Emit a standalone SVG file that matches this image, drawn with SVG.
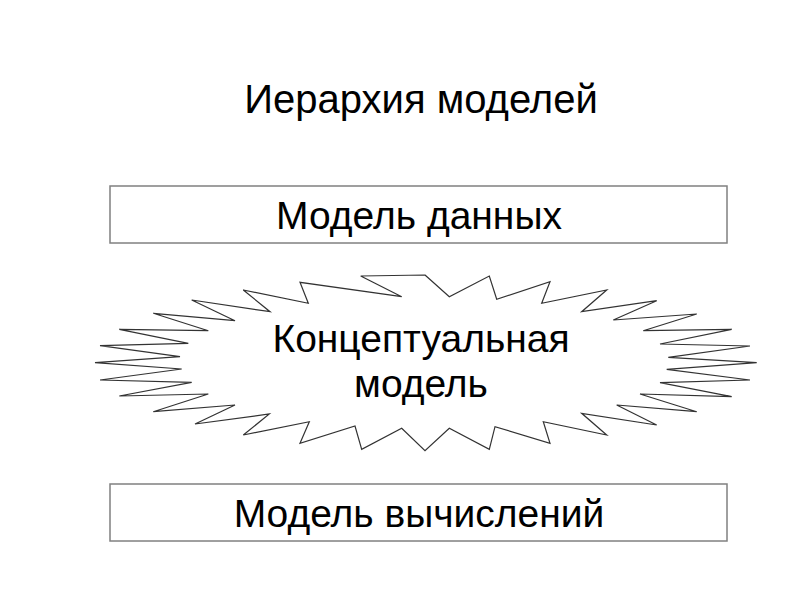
<svg xmlns="http://www.w3.org/2000/svg" width="800" height="600" viewBox="0 0 800 600">
<style>
text{font-family:"Liberation Sans",Arial,sans-serif;fill:#000;text-anchor:middle}
.box{fill:#fff;stroke:#808080;stroke-width:1.5}
.burst{fill:#fff;stroke:#333;stroke-width:1.2;stroke-linejoin:miter}
.t{font-size:39px}
</style>
<rect width="800" height="600" fill="#fff"/>
<g id="title"><text x="421" y="113" style="font-size:40px">Иерархия моделей</text></g>
<g id="data-model">
<rect class="box" x="110" y="186" width="617" height="57"/>
<text class="t" x="419" y="229">Модель данных</text>
</g>
<g id="concept-model">
<polygon class="burst" points="425,275 449.3,296.7 489.3,276 496.7,299.3 550,281.7 541.7,303.3 606.7,290 581.7,311.7 656.7,300.7 613.3,320 696.7,314 643.3,330.7 731.7,329.3 660,344 750,346 668.3,357.3 756.7,362.7 666.7,369.3 750,380 660,382.7 731.7,396.7 640,394 696.7,411.7 616.7,405 656.7,425 581.7,413.3 606.7,435 543.3,421.7 550,443.3 495,426.7 489.3,449.3 449.3,428.3 425,450.7 401.7,428.3 361.7,449.3 355,426 300,443.3 309.3,421.7 243.3,435 269.3,414 195,424 235,405 153.3,411.7 208.3,394 119.3,396 191.7,382.3 100,380 181.7,369 95,362.7 180,356.7 100,345.7 188.3,343.3 119.3,329.3 208.3,330.7 153.3,313.3 235,320.7 191.7,300 270,311.7 243.3,290 308.3,303.3 300,282.3 401.7,296.7 360.7,276"/>
<text class="t" x="421" y="352">Концептуальная</text>
<text class="t" x="421" y="397">модель</text>
</g>
<g id="compute-model">
<rect class="box" x="110" y="484" width="617" height="57"/>
<text class="t" x="419" y="527">Модель вычислений</text>
</g>
<g id="connectors"></g>
</svg>
